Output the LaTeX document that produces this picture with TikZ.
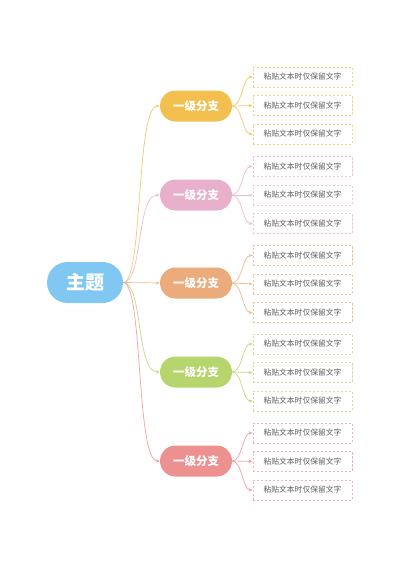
\documentclass[tikz,border=0pt]{standalone}
\usepackage{fontspec}
\setmainfont{Noto Sans CJK SC}
\usetikzlibrary{arrows.meta}

\definecolor{topicblue}{HTML}{80C8F2}
\definecolor{sunyellow}{HTML}{F3C04F}
\definecolor{rosepink}{HTML}{E9B0CC}
\definecolor{peachorange}{HTML}{ECAB7B}
\definecolor{limegreen}{HTML}{B6D56C}
\definecolor{salmonred}{HTML}{EC9190}
\definecolor{leafgray}{HTML}{5F5F5F}

\tikzset{
    topic/.style={fill=topicblue, rounded corners=20.5pt, minimum width=76pt,
        minimum height=41pt, inner sep=0pt, text=white,
        font=\fontsize{19}{19}\selectfont\bfseries},
    branch/.style={fill=#1, rounded corners=15.5pt, minimum width=72pt,
        minimum height=31pt, inner sep=0pt, text=white,
        font=\fontsize{11.5}{11.5}\selectfont\bfseries},
    leaf/.style={draw=#1!70, dash pattern=on 2.4pt off 1.6pt, line width=0.7pt,
        fill=white, minimum width=99pt, minimum height=20pt, inner sep=0pt,
        text=leafgray, font=\fontsize{7.8}{7.8}\selectfont},
    link/.style={draw=#1!85, line width=0.7pt, -{Stealth[length=4pt,width=3.2pt]}},
}

\begin{document}
\begin{tikzpicture}[x=1pt, y=-1pt]
        \useasboundingbox (0,0) rectangle (400,565);
        % root and first level
        \node[topic] (root) at (85, 282.5) {主题};
        \node[branch=sunyellow]   (b1) at (196, 106) {一级分支};
        \node[branch=rosepink]    (b2) at (196, 195) {一级分支};
        \node[branch=peachorange] (b3) at (196, 283) {一级分支};
        \node[branch=limegreen]   (b4) at (196, 372) {一级分支};
        \node[branch=salmonred]   (b5) at (196, 461) {一级分支};
        % leaves
        \node[leaf=sunyellow]   (l11) at (302.5, 77)    {粘贴文本时仅保留文字};
        \node[leaf=sunyellow]   (l12) at (302.5, 105.5) {粘贴文本时仅保留文字};
        \node[leaf=sunyellow]   (l13) at (302.5, 134)   {粘贴文本时仅保留文字};
        \node[leaf=rosepink]    (l21) at (302.5, 166.5) {粘贴文本时仅保留文字};
        \node[leaf=rosepink]    (l22) at (302.5, 195)   {粘贴文本时仅保留文字};
        \node[leaf=rosepink]    (l23) at (302.5, 223.5) {粘贴文本时仅保留文字};
        \node[leaf=peachorange] (l31) at (302.5, 255.5) {粘贴文本时仅保留文字};
        \node[leaf=peachorange] (l32) at (302.5, 284)   {粘贴文本时仅保留文字};
        \node[leaf=peachorange] (l33) at (302.5, 312.5) {粘贴文本时仅保留文字};
        \node[leaf=limegreen]   (l41) at (302.5, 344)   {粘贴文本时仅保留文字};
        \node[leaf=limegreen]   (l42) at (302.5, 372.5) {粘贴文本时仅保留文字};
        \node[leaf=limegreen]   (l43) at (302.5, 401)   {粘贴文本时仅保留文字};
        \node[leaf=salmonred]   (l51) at (302.5, 433)   {粘贴文本时仅保留文字};
        \node[leaf=salmonred]   (l52) at (302.5, 461.5) {粘贴文本时仅保留文字};
        \node[leaf=salmonred]   (l53) at (302.5, 490)   {粘贴文本时仅保留文字};
        % root to branches
        \draw[link=sunyellow]   (root.east) .. controls +(20,0) and +(-24,0) .. (b1.west);
        \draw[link=rosepink]    (root.east) .. controls +(20,0) and +(-24,0) .. (b2.west);
        \draw[link=peachorange] (root.east) -- (b3.west);
        \draw[link=limegreen]   (root.east) .. controls +(20,0) and +(-24,0) .. (b4.west);
        \draw[link=salmonred]   (root.east) .. controls +(20,0) and +(-24,0) .. (b5.west);
        % branches to leaves
        \draw[link=sunyellow]   (b1.east) .. controls +(10,0) and +(-10,0) .. (l11.west);
        \draw[link=sunyellow]   (b1.east) -- (l12.west);
        \draw[link=sunyellow]   (b1.east) .. controls +(10,0) and +(-10,0) .. (l13.west);
        \draw[link=rosepink]    (b2.east) .. controls +(10,0) and +(-10,0) .. (l21.west);
        \draw[link=rosepink]    (b2.east) -- (l22.west);
        \draw[link=rosepink]    (b2.east) .. controls +(10,0) and +(-10,0) .. (l23.west);
        \draw[link=peachorange] (b3.east) .. controls +(10,0) and +(-10,0) .. (l31.west);
        \draw[link=peachorange] (b3.east) -- (l32.west);
        \draw[link=peachorange] (b3.east) .. controls +(10,0) and +(-10,0) .. (l33.west);
        \draw[link=limegreen]   (b4.east) .. controls +(10,0) and +(-10,0) .. (l41.west);
        \draw[link=limegreen]   (b4.east) -- (l42.west);
        \draw[link=limegreen]   (b4.east) .. controls +(10,0) and +(-10,0) .. (l43.west);
        \draw[link=salmonred]   (b5.east) .. controls +(10,0) and +(-10,0) .. (l51.west);
        \draw[link=salmonred]   (b5.east) -- (l52.west);
        \draw[link=salmonred]   (b5.east) .. controls +(10,0) and +(-10,0) .. (l53.west);
\end{tikzpicture}
\end{document}
